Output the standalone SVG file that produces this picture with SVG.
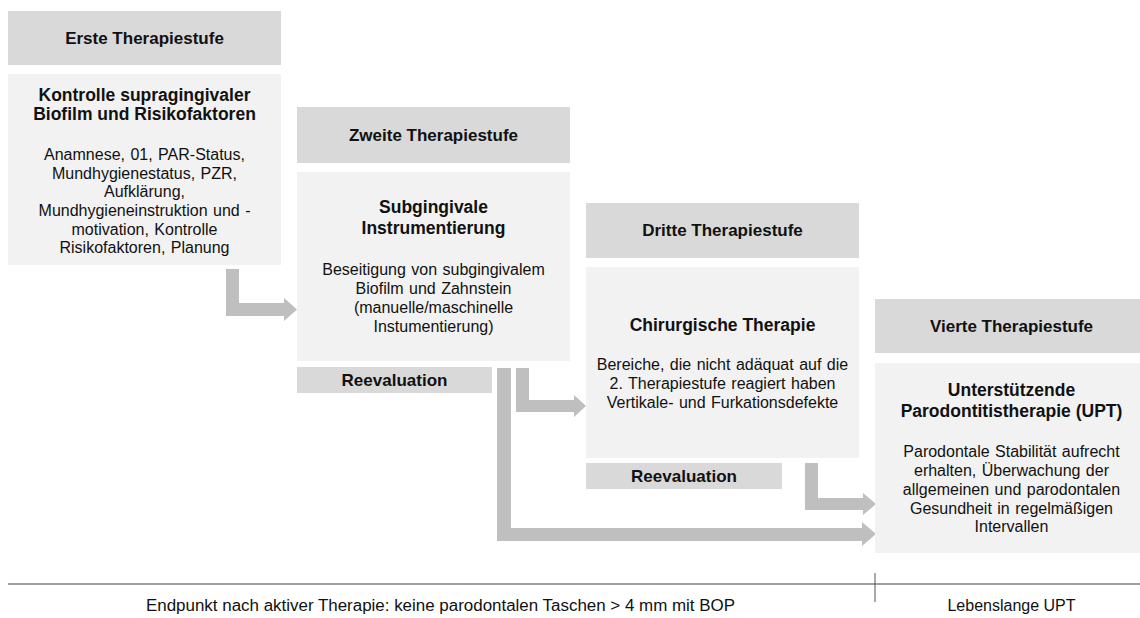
<svg xmlns="http://www.w3.org/2000/svg" width="1140" height="618" viewBox="0 0 1140 618">
<style>
text{font-family:"Liberation Sans",Arial,sans-serif;fill:#111;text-anchor:middle}
.hd{fill:#d9d9d9}
.bx{fill:#f2f2f2}
.h{font-size:17px;font-weight:bold}
.t{font-size:17.5px;font-weight:bold}
.b{font-size:16px;word-spacing:1px}
.ar{fill:#bfbfbf}
</style>
<rect width="1140" height="618" fill="#fff"/>
<g id="connectors">
<polygon class="ar" points="226,269 239,269 239,303 284,303 284,298 297,309.5 284,321 284,316 226,316"/>
<polygon class="ar" points="516,368 529,368 529,400 574,400 574,395 586,406 574,417 574,412 516,412"/>
<polygon class="ar" points="497,368 511,368 511,528 862,528 862,522 876,534 862,546 862,541 497,541"/>
<polygon class="ar" points="805,463 818,463 818,498 863,498 863,493 876,504 863,515 863,510 805,510"/>
</g>
<g id="stufe1">
<rect class="hd" x="8" y="11" width="273" height="54"/>
<text class="h" x="144.5" y="44">Erste Therapiestufe</text>
<rect class="bx" x="8" y="74" width="273" height="191"/>
<text class="t" x="144.5" y="101">Kontrolle supragingivaler</text>
<text class="t" x="144.5" y="120">Biofilm und Risikofaktoren</text>
<text class="b" x="144.5" y="160">Anamnese, 01, PAR-Status,</text>
<text class="b" x="144.5" y="179">Mundhygienestatus, PZR,</text>
<text class="b" x="144.5" y="197">Aufklärung,</text>
<text class="b" x="144.5" y="216">Mundhygieneinstruktion und -</text>
<text class="b" x="144.5" y="235">motivation, Kontrolle</text>
<text class="b" x="144.5" y="253">Risikofaktoren, Planung</text>
</g>
<g id="stufe2">
<rect class="hd" x="297" y="107" width="273" height="56"/>
<text class="h" x="433.5" y="141">Zweite Therapiestufe</text>
<rect class="bx" x="297" y="172" width="273" height="189"/>
<text class="t" x="433.5" y="213">Subgingivale</text>
<text class="t" x="433.5" y="234">Instrumentierung</text>
<text class="b" x="433.5" y="275">Beseitigung von subgingivalem</text>
<text class="b" x="433.5" y="294">Biofilm und Zahnstein</text>
<text class="b" x="433.5" y="313">(manuelle/maschinelle</text>
<text class="b" x="433.5" y="332">Instumentierung)</text>
</g>
<g id="reeval2">
<rect class="hd" x="297" y="367" width="195" height="26"/>
<text class="h" x="394.5" y="386">Reevaluation</text>
</g>
<g id="stufe3">
<rect class="hd" x="586" y="203" width="273" height="55"/>
<text class="h" x="722.5" y="236">Dritte Therapiestufe</text>
<rect class="bx" x="586" y="267" width="273" height="191"/>
<text class="t" x="722.5" y="331">Chirurgische Therapie</text>
<text class="b" x="722.5" y="370">Bereiche, die nicht adäquat auf die</text>
<text class="b" x="722.5" y="389">2. Therapiestufe reagiert haben</text>
<text class="b" x="722.5" y="408">Vertikale- und Furkationsdefekte</text>
</g>
<g id="reeval3">
<rect class="hd" x="586" y="463" width="196" height="26"/>
<text class="h" x="684" y="482">Reevaluation</text>
</g>
<g id="stufe4">
<rect class="hd" x="875" y="299" width="273" height="54"/>
<text class="h" x="1011.5" y="332">Vierte Therapiestufe</text>
<rect class="bx" x="875" y="363" width="273" height="190"/>
<text class="t" x="1011.5" y="396">Unterstützende</text>
<text class="t" x="1011.5" y="417">Parodontitistherapie (UPT)</text>
<text class="b" x="1011.5" y="457">Parodontale Stabilität aufrecht</text>
<text class="b" x="1011.5" y="476">erhalten, Überwachung der</text>
<text class="b" x="1011.5" y="495">allgemeinen und parodontalen</text>
<text class="b" x="1011.5" y="514">Gesundheit in regelmäßigen</text>
<text class="b" x="1011.5" y="532">Intervallen</text>
</g>
<g id="timeline">
<line x1="8" y1="584" x2="1140" y2="584" stroke="#7f7f7f" stroke-width="1.5"/>
<line x1="875" y1="573" x2="875" y2="602" stroke="#555" stroke-width="1"/>
<text x="440.5" y="611" style="font-size:16px" textLength="589" lengthAdjust="spacingAndGlyphs">Endpunkt nach aktiver Therapie: keine parodontalen Taschen &gt; 4 mm mit BOP</text>
<text x="1011.5" y="611" style="font-size:16px">Lebenslange UPT</text>
</g>
</svg>
